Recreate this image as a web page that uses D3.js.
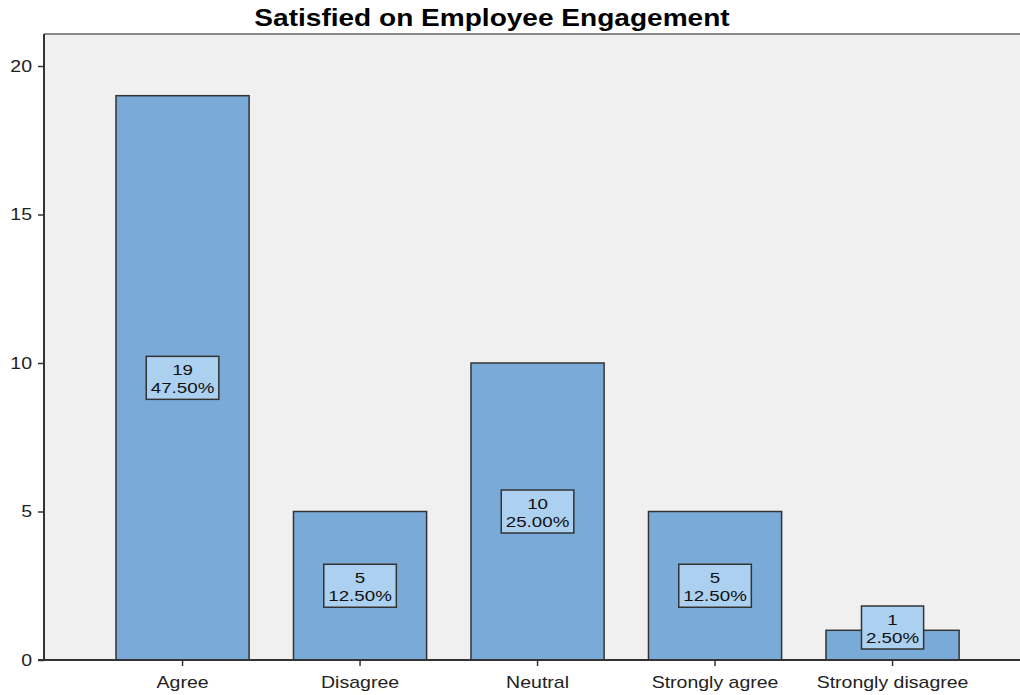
<!DOCTYPE html>
<html>
<head>
<meta charset="utf-8">
<script src="https://cdn.jsdelivr.net/npm/d3@7"></script>
<style>
  body { margin: 0; background: #fff; }
  svg { display: block; font-family: Arial, "Liberation Sans", sans-serif; }
</style>
</head>
<body>
<svg id="chart"></svg>
<script>
// Data
const categories = ["Agree", "Disagree", "Neutral", "Strongly agree", "Strongly disagree"];
const counts = [19, 5, 10, 5, 1];
const percents = ["47.50%", "12.50%", "25.00%", "12.50%", "2.50%"];
const yTicks = [0, 5, 10, 15, 20];

const width = 1020, height = 695;
const plot = { left: 44, top: 34, right: 1022, bottom: 660 };
const stretch = 1.22; // the original output is a little wider than tall

const svg = d3.select("#chart")
  .attr("width", width)
  .attr("height", height);

// Scales
const x = d3.scaleBand()
  .domain(categories)
  .range([93.8, 981.3])
  .paddingInner(0.25)
  .paddingOuter(0.125);

const y = d3.scaleLinear()
  .domain([0, 20])
  .range([plot.bottom, plot.bottom - 594]);

// plot background
svg.append("rect")
  .attr("x", plot.left)
  .attr("y", plot.top)
  .attr("width", plot.right - plot.left)
  .attr("height", plot.bottom - plot.top)
  .attr("fill", "#f0f0f0");

// top border
svg.append("line")
  .attr("x1", plot.left).attr("x2", plot.right)
  .attr("y1", plot.top).attr("y2", plot.top)
  .attr("stroke", "#888").attr("stroke-width", 2);

// title
svg.append("text")
  .attr("transform", `translate(492,26) scale(${stretch},1)`)
  .attr("text-anchor", "middle")
  .attr("font-size", 23)
  .attr("font-weight", "bold")
  .attr("fill", "#000")
  .text("Satisfied on Employee Engagement");

// bars
svg.selectAll(".bar")
  .data(categories)
  .enter()
  .append("rect")
  .attr("class", "bar")
  .attr("x", d => x(d))
  .attr("y", (d, i) => y(counts[i]))
  .attr("width", x.bandwidth())
  .attr("height", (d, i) => y(0) - y(counts[i]))
  .attr("fill", "#7aaad7")
  .attr("stroke", "#333")
  .attr("stroke-width", 1.5);

// Y axis
const yAxis = d3.axisLeft(y).tickValues(yTicks).tickSize(6);
const yg = svg.append("g")
  .attr("transform", `translate(${plot.left},0)`)
  .call(yAxis);
yg.select(".domain").attr("d", `M0,${plot.top}V${plot.bottom}`).attr("stroke", "#333").attr("stroke-width", 2);
yg.selectAll(".tick line").attr("stroke", "#333").attr("stroke-width", 1.5);
yg.selectAll(".tick text")
  .attr("x", 0)
  .attr("transform", `translate(-12,0) scale(${stretch},1)`)
  .attr("font-size", 16).attr("fill", "#222")
  .attr("font-family", "Arial, 'Liberation Sans', sans-serif");

// X axis
const xAxis = d3.axisBottom(x).tickSize(6).tickPadding(11);
const xg = svg.append("g")
  .attr("transform", `translate(0,${plot.bottom})`)
  .call(xAxis);
xg.select(".domain").attr("d", `M${plot.left - 6},0H${plot.right}`).attr("stroke", "#333").attr("stroke-width", 2);
xg.selectAll(".tick line").attr("stroke", "#333").attr("stroke-width", 1.5);
xg.selectAll(".tick text")
  .attr("transform", `scale(${stretch},1)`)
  .attr("font-size", 16).attr("fill", "#222")
  .attr("font-family", "Arial, 'Liberation Sans', sans-serif");

// value labels
const labels = svg.selectAll(".label")
  .data(categories)
  .enter()
  .append("g")
  .attr("class", "label");

labels.each(function (d, i) {
  const g = d3.select(this);
  const cx = x(d) + x.bandwidth() / 2;
  const h = 43;
  let cy = (y(counts[i]) + y(0)) / 2;
  cy = Math.min(cy, y(0) - 11 - h / 2);
  const t2 = g.append("text").attr("text-anchor", "middle")
    .attr("transform", `translate(${cx},${cy + 15.5}) scale(1.25,1)`)
    .attr("font-size", 15).attr("fill", "#111").text(percents[i]);
  const w = t2.node().getComputedTextLength() * 1.25 + 9;
  g.insert("rect", "text")
    .attr("x", cx - w / 2)
    .attr("y", cy - h / 2)
    .attr("width", w)
    .attr("height", h)
    .attr("fill", "#acd0f0")
    .attr("stroke", "#333")
    .attr("stroke-width", 1.5);
  g.append("text").attr("text-anchor", "middle")
    .attr("transform", `translate(${cx},${cy - 2.5}) scale(1.25,1)`)
    .attr("font-size", 15).attr("fill", "#111").text(counts[i]);
});
</script>
</body>
</html>
